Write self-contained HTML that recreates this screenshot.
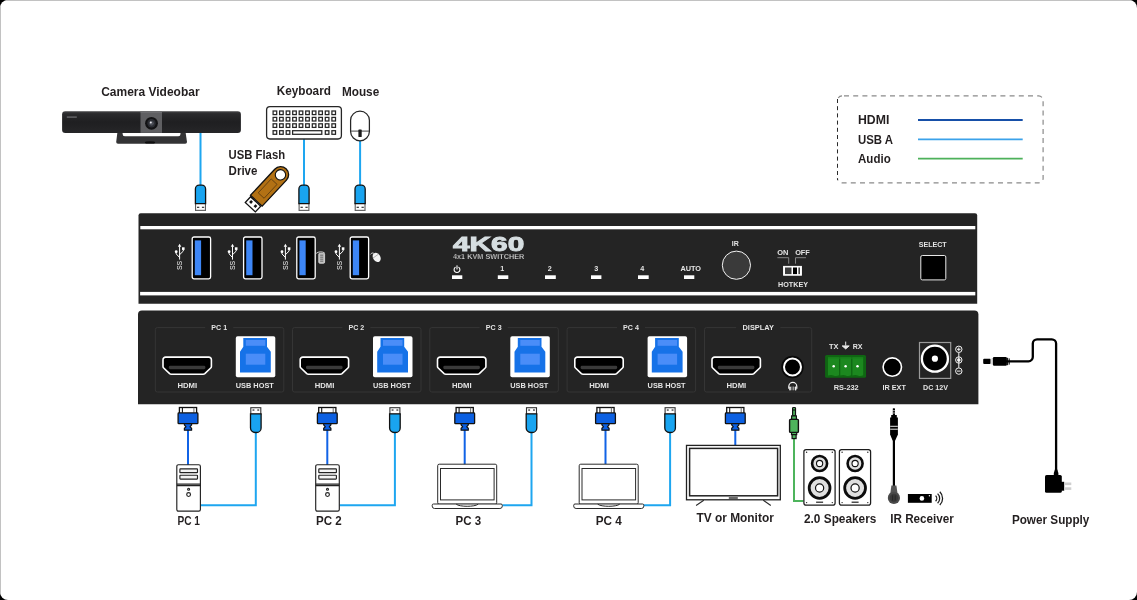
<!DOCTYPE html>
<html><head><meta charset="utf-8">
<style>
html,body{margin:0;padding:0;background:#000;}
body{width:1137px;height:600px;overflow:hidden;font-family:"Liberation Sans",sans-serif;}
svg{display:block;will-change:transform;}
text{font-family:"Liberation Sans",sans-serif;font-weight:bold;}
.lbl{fill:#231f20;font-size:12.8px;}
.pl{fill:#e4e4e4;font-size:7.2px;}
</style></head><body>
<svg width="1137" height="600" viewBox="0 0 1137 600">
<defs>
<!-- USB-A plug pointing up (metal at bottom) used on top devices: origin = center x, top of blue body -->
<g id="usbDown">
  <rect x="-4.9" y="18.2" width="9.8" height="7.4" fill="#fff" stroke="#4a4a4a" stroke-width="1"/>
  <path d="M-4.9 25.5H4.9" stroke="#666" stroke-width="1.2"/>
  <rect x="-3.5" y="21.8" width="2.3" height="1.3" fill="#444"/><rect x="1.4" y="21.8" width="2.3" height="1.3" fill="#444"/>
  <path d="M-5.1 18.7V4.1A3.8 3.8 0 0 1 -1.3 0.3H1.3A3.8 3.8 0 0 1 5.1 4.1V18.7Z" fill="#19a4f0" stroke="#111" stroke-width="1.3"/>
</g>
<!-- USB-A plug with metal at top (below rear panel): origin = center x, top of metal -->
<g id="usbUp">
  <rect x="-5" y="0.4" width="10" height="6.6" fill="#fff" stroke="#333" stroke-width="1.1"/>
  <rect x="-3.3" y="1.9" width="1.9" height="1.7" fill="#666"/><rect x="1.5" y="1.9" width="1.9" height="1.7" fill="#666"/>
  <path d="M-5.3 6.6V20.6A4.6 4.6 0 0 0 -0.7 25.2H0.7A4.6 4.6 0 0 0 5.3 20.6V6.6Z" fill="#19a4f0" stroke="#111" stroke-width="1.3"/>
</g>
<!-- HDMI plug: origin = center x, top -->
<g id="hdmiPlug">
  <rect x="-8.6" y="0.2" width="17.2" height="6.8" fill="#fff" stroke="#111" stroke-width="1.3"/>
  <path d="M-5.6 0.5V5.5" stroke="#111" stroke-width="1.1"/><path d="M5.9 0.5V5.5" stroke="#777" stroke-width="1.1"/>
  <path d="M-3.6 16H3.6V17.6L2 19.6L3.6 21V22.9H-3.6V21L-2 19.6L-3.6 17.6Z" fill="#0c60e2" stroke="#111" stroke-width="1.2" stroke-linejoin="round"/>
  <rect x="-9.9" y="5.6" width="19.8" height="10.8" rx="0.8" fill="#0c60e2" stroke="#111" stroke-width="1.3"/>
</g>
<!-- HDMI port: origin = left, top; 50 x 18.7 -->
<g id="hdmiPort">
  <path d="M3.4 0.8H46.6a2.6 2.6 0 0 1 2.6 2.6V10.2a2 2 0 0 1 -0.7 1.5L42.6 17.3a2.4 2.4 0 0 1 -1.6 0.6H9a2.4 2.4 0 0 1 -1.6 -0.6L1.5 11.7a2 2 0 0 1 -0.7 -1.5V3.4A2.6 2.6 0 0 1 3.4 0.8Z" fill="#000" stroke="#fff" stroke-width="1.6" stroke-linejoin="round"/>
  <rect x="6.6" y="9.5" width="36.6" height="3.4" rx="1.4" fill="#3a3a3a"/>
</g>
<!-- USB-B port: origin left top; 39.5 x 41 -->
<g id="usbB">
  <rect x="0" y="0" width="39.5" height="41" rx="1.8" fill="#fff"/>
  <path d="M7.5 1.7H31.2V10.4L35 15.4V36.2H4.2V15.4L7.5 10.4Z" fill="#1672e8"/>
  <rect x="10" y="3.7" width="19.5" height="5.8" fill="#4a8df8"/>
  <rect x="10" y="17.4" width="19.5" height="11" fill="#4a8df8"/>
</g>
<!-- PC group : origin at box left (155.3) -->
<g id="pcGroup">
  <use href="#hdmiPort" x="6.9" y="356.3"/>
  <use href="#usbB" x="80.5" y="336.3"/>
  <text class="pl" x="32" y="388.2" text-anchor="middle" textLength="19.7" lengthAdjust="spacingAndGlyphs">HDMI</text>
  <text class="pl" x="99.5" y="388.2" text-anchor="middle" textLength="38" lengthAdjust="spacingAndGlyphs">USB HOST</text>
</g>
<!-- USB trident + SS -->
<g id="usbSym" fill="#fff" stroke="none">
  <path d="M0 -8.6L1.7 -5.6H-1.7Z"/>
  <path d="M0 -6V7.3" stroke="#fff" stroke-width="1" fill="none"/>
  <path d="M-3.4 -0.5V1.6L0 5.2M3.7 -3.6V-1.2L0 2.4" stroke="#fff" stroke-width="1" fill="none"/>
  <circle cx="-3.4" cy="-0.6" r="1.4"/>
  <rect x="2.4" y="-5" width="2.6" height="2.6"/>
  <text transform="translate(2.2,17.8) rotate(-90)" font-size="7.4px" fill="#f0f0f0" textLength="9.2" lengthAdjust="spacingAndGlyphs" style="font-weight:normal">SS</text>
</g>
<!-- Front USB port: origin left top -->
<g id="fUsb">
  <rect x="0.6" y="0.6" width="18.4" height="41.8" rx="1.8" fill="#000" stroke="#fff" stroke-width="1.3"/>
  <rect x="3.2" y="4" width="6.3" height="34.8" fill="#3d86f6"/>
</g>
<!-- PC tower: origin left top, 24.4 x 47.2 -->
<g id="tower" stroke="#222" stroke-width="1.15" fill="#fff">
  <rect x="0.5" y="0.5" width="23.6" height="46.4" rx="1.6"/>
  <rect x="3.6" y="4.6" width="17.6" height="3.8" rx="0.5" fill="#f4f4f4"/>
  <rect x="3.6" y="11" width="17.6" height="3.8" rx="0.5" fill="#f4f4f4"/>
  <path d="M0.5 19.8H24.1M0.5 21.4H24.1" />
  <circle cx="12.3" cy="25" r="1"/>
  <circle cx="12.3" cy="30.3" r="1.9"/>
</g>
<!-- Laptop: origin = base left, screen top ; base width 71 -->
<g id="laptop" stroke="#2a2a2a" stroke-width="1" fill="#fff">
  <rect x="6" y="0.5" width="59" height="40" rx="1.5"/>
  <rect x="8.8" y="4.8" width="53.6" height="31.4"/>
  <path d="M1.8 40.3H69.3A1.3 1.3 0 0 1 70.6 41.6V42.4A2.4 2.4 0 0 1 68.2 44.8H2.9A2.4 2.4 0 0 1 0.5 42.4V41.6A1.3 1.3 0 0 1 1.8 40.3Z"/>
  <path d="M24.5 40.5C28 43.3 43 43.3 46.5 40.5" fill="none"/>
</g>
<!-- Speaker: origin left top 32.2 x 56.5 -->
<g id="spk">
  <rect x="0.6" y="0.6" width="31.2" height="55.5" rx="2.2" fill="#fff" stroke="#1c1c1c" stroke-width="1.25"/>
  <circle cx="16.3" cy="14.5" r="7.5" fill="#e0e0e0" stroke="#0c0c0c" stroke-width="2.6"/>
  <circle cx="16.3" cy="14.5" r="3.1" fill="#fff" stroke="#111" stroke-width="1.1"/>
  <circle cx="16.3" cy="39" r="10.4" fill="#e0e0e0" stroke="#0c0c0c" stroke-width="2.8"/>
  <circle cx="16.3" cy="39" r="4.1" fill="#fff" stroke="#111" stroke-width="1.2"/>
  <rect x="12.8" y="52.6" width="7" height="1.2" fill="#222"/>
  <circle cx="3.3" cy="3.2" r="0.7" fill="#222"/><circle cx="29" cy="3.2" r="0.7" fill="#222"/>
  <circle cx="3.3" cy="53.6" r="0.7" fill="#222"/><circle cx="29" cy="53.6" r="0.7" fill="#222"/>
</g>
<linearGradient id="camG" x1="0" y1="0" x2="0" y2="1"><stop offset="0" stop-color="#454547"/><stop offset="0.12" stop-color="#2a2a2c"/><stop offset="0.5" stop-color="#1f1f21"/><stop offset="1" stop-color="#262628"/></linearGradient>
</defs>

<!-- page background -->
<rect x="0" y="0" width="1137" height="600" rx="8" fill="#fff"/>
<path d="M6.5 0.5H1130.5M0.5 6.5V593.5" stroke="#c2c2c2" stroke-width="1" fill="none"/>

<g id="front">
  <path d="M138.5 303.8V215.4A2.2 2.2 0 0 1 140.7 213.2H975A2.2 2.2 0 0 1 977.2 215.4V303.8Z" fill="#242424"/>
  <rect x="140.3" y="226" width="835" height="3.3" fill="#fff"/>
  <rect x="140.1" y="291.9" width="835.2" height="3.5" fill="#fff"/>
  <use href="#fUsb" x="191.6" y="236.4"/><use href="#fUsb" x="243" y="236.4"/><use href="#fUsb" x="296.2" y="236.4"/><use href="#fUsb" x="349.6" y="236.4"/>
  <use href="#usbSym" x="179.6" y="252.3"/><use href="#usbSym" x="232.5" y="252.3"/><use href="#usbSym" x="285.4" y="252.3"/><use href="#usbSym" x="339.4" y="252.3"/>
  <!-- tiny keyboard icon -->
  <g transform="translate(316.2,251.6)" fill="none" stroke="#d8d8d8" stroke-width="0.9">
    <path d="M0 1.8C2 -0.2 6 -0.2 8.4 1.2"/>
    <rect x="2.6" y="1.6" width="5.8" height="10" rx="1" fill="#bdbdbd"/>
    <path d="M4 3.6H7M4 5.6H7M4 7.6H7M4 9.6H7" stroke="#555" stroke-width="0.8"/>
  </g>
  <!-- tiny mouse icon -->
  <g transform="translate(376.7,257.4) rotate(-35)">
    <ellipse cx="0" cy="0" rx="3.6" ry="4.9" fill="#f2f2f2"/>
    <path d="M-3.4 -1.6H3.4" stroke="#888" stroke-width="0.6"/>
    <path d="M0 -4.8C-0.5 -6.5 -2 -6.6 -3.4 -6" stroke="#ddd" stroke-width="0.8" fill="none"/>
  </g>
  <!-- title -->
  <text x="453" y="250.6" font-size="20.4px" fill="#d6dee1" stroke="#d6dee1" stroke-width="0.9" textLength="71.3" lengthAdjust="spacingAndGlyphs">4K60</text>
  <text x="453" y="258.9" font-size="7.3px" fill="#e6e6e6" stroke="#242424" stroke-width="0.25" textLength="71.3" lengthAdjust="spacingAndGlyphs">4x1 KVM SWITCHER</text>
  <!-- power icon -->
  <g fill="none" stroke="#fff" stroke-width="1.1" stroke-linecap="round">
    <path d="M455.2 267.4A2.9 2.9 0 1 0 458.8 267.4"/><path d="M457 265.8V268.9"/>
  </g>
  <g fill="#fff">
    <rect x="452" y="275.3" width="10.3" height="3.7"/><rect x="497.8" y="275.3" width="10.5" height="3.7"/>
    <rect x="545" y="275.3" width="10.8" height="3.7"/><rect x="591" y="275.3" width="10.4" height="3.7"/>
    <rect x="638" y="275.3" width="10.7" height="3.7"/><rect x="684" y="275.3" width="10.3" height="3.7"/>
  </g>
  <g class="pl" fill="#e4e4e4" text-anchor="middle" font-size="7.4px">
    <text class="pl" x="502.3" y="271.3">1</text><text class="pl" x="549.7" y="271.3">2</text>
    <text class="pl" x="596.3" y="271.3">3</text><text class="pl" x="642.3" y="271.3">4</text>
    <text class="pl" x="690.7" y="271.3" textLength="20.6" lengthAdjust="spacingAndGlyphs">AUTO</text>
    <text class="pl" x="735.2" y="245.8" textLength="7" lengthAdjust="spacingAndGlyphs">IR</text>
    <text class="pl" x="782.8" y="255" textLength="11.2" lengthAdjust="spacingAndGlyphs">ON</text>
    <text class="pl" x="802.5" y="255" textLength="14.7" lengthAdjust="spacingAndGlyphs">OFF</text>
    <text class="pl" x="793" y="286.6" textLength="30" lengthAdjust="spacingAndGlyphs">HOTKEY</text>
    <text class="pl" x="932.7" y="247.1" textLength="28" lengthAdjust="spacingAndGlyphs">SELECT</text>
  </g>
  <circle cx="736.4" cy="265.2" r="14.1" fill="#3a3a3a" stroke="#f2f2f2" stroke-width="1"/>
  <path d="M777.4 257.7H788.7V263.7M806 257.7H795.5V263.7" stroke="#9a9a9a" stroke-width="0.8" fill="none"/>
  <rect x="783.6" y="266.4" width="17.8" height="8.8" fill="#fff" stroke="#fff" stroke-width="1"/>
  <rect x="785" y="267.5" width="6.5" height="6.6" fill="#3c3c3c"/>
  <rect x="793" y="267.5" width="4" height="6.6" fill="#000"/>
  <rect x="798.4" y="267.5" width="1.6" height="6.6" fill="#444"/>
  <rect x="920.8" y="255.5" width="25" height="24.4" rx="1.5" fill="#000" stroke="#e8e8e8" stroke-width="1"/>
</g>
<g id="rear">
  <path d="M138 404.2V314.4A4 4 0 0 1 142 310.4H974.4A4 4 0 0 1 978.4 314.4V404.2Z" fill="#242424"/>
  <path d="M205.2 327.6H157.3A2 2 0 0 0 155.3 329.6V390A2 2 0 0 0 157.3 392H281.8A2 2 0 0 0 283.8 390V329.6A2 2 0 0 0 281.8 327.6H233.2" fill="none" stroke="#353535" stroke-width="1"/>
  <text class="pl" x="219.2" y="330.1" text-anchor="middle" textLength="15.8" lengthAdjust="spacingAndGlyphs">PC 1</text>
  <use href="#pcGroup" x="155.3" y="0"/>
  <path d="M342.4 327.6H294.5A2 2 0 0 0 292.5 329.6V390A2 2 0 0 0 294.5 392H419.0A2 2 0 0 0 421.0 390V329.6A2 2 0 0 0 419.0 327.6H370.4" fill="none" stroke="#353535" stroke-width="1"/>
  <text class="pl" x="356.4" y="330.1" text-anchor="middle" textLength="15.8" lengthAdjust="spacingAndGlyphs">PC 2</text>
  <use href="#pcGroup" x="292.5" y="0"/>
  <path d="M479.7 327.6H431.8A2 2 0 0 0 429.8 329.6V390A2 2 0 0 0 431.8 392H556.3A2 2 0 0 0 558.3 390V329.6A2 2 0 0 0 556.3 327.6H507.7" fill="none" stroke="#353535" stroke-width="1"/>
  <text class="pl" x="493.7" y="330.1" text-anchor="middle" textLength="15.8" lengthAdjust="spacingAndGlyphs">PC 3</text>
  <use href="#pcGroup" x="429.8" y="0"/>
  <path d="M617.0 327.6H569.1A2 2 0 0 0 567.1 329.6V390A2 2 0 0 0 569.1 392H693.6A2 2 0 0 0 695.6 390V329.6A2 2 0 0 0 693.6 327.6H645.0" fill="none" stroke="#353535" stroke-width="1"/>
  <text class="pl" x="631.0" y="330.1" text-anchor="middle" textLength="15.8" lengthAdjust="spacingAndGlyphs">PC 4</text>
  <use href="#pcGroup" x="567.1" y="0"/>
  <path d="M736.1 327.6H706.5A2 2 0 0 0 704.5 329.6V390A2 2 0 0 0 706.5 392H809.7A2 2 0 0 0 811.7 390V329.6A2 2 0 0 0 809.7 327.6H780.4" fill="none" stroke="#353535" stroke-width="1"/>
  <text class="pl" x="758.2" y="330.1" text-anchor="middle" textLength="31.3" lengthAdjust="spacingAndGlyphs">DISPLAY</text>
  <use href="#hdmiPort" x="711.2" y="356.3"/>
  <text class="pl" x="736.4" y="388.2" text-anchor="middle" textLength="19.7" lengthAdjust="spacingAndGlyphs">HDMI</text>
  <circle cx="792.5" cy="367" r="11.2" fill="#080808"/>
  <circle cx="792.5" cy="367" r="8.5" fill="#000" stroke="#fff" stroke-width="2"/>
  <!-- headphones -->
  <g fill="none" stroke="#f6f6f6" stroke-width="1.2">
    <path d="M788.8 388.8V386.4A4 4 0 0 1 796.8 386.4V388.8"/>
    <rect x="789.2" y="386.6" width="1.6" height="3.8" rx="0.6" fill="#f0f0f0" stroke="none"/>
    <rect x="794.8" y="386.6" width="1.6" height="3.8" rx="0.6" fill="#f0f0f0" stroke="none"/>
    <path d="M792 386.5V390.3M793.6 386.5V390.3" stroke-width="0.6"/>
  </g>
  <!-- RS-232 -->
  <text class="pl" x="833.8" y="348.9" text-anchor="middle" textLength="9.5" lengthAdjust="spacingAndGlyphs" style="font-weight:bold">TX</text>
  <text class="pl" x="857.6" y="348.9" text-anchor="middle" textLength="9.8" lengthAdjust="spacingAndGlyphs">RX</text>
  <path d="M845.7 341.6V345.6M842.2 345.9H849.2L845.7 348.9Z" stroke="#e8e8e8" stroke-width="1" fill="#e8e8e8" stroke-linejoin="round"/>
  <rect x="825.1" y="354.9" width="40.9" height="22.9" rx="1.6" fill="#0f6612"/>
  <path d="M828 357.3H839V375.2Q836.2 376.6 833.5 375.4Q830.8 374.4 828 375.6Z" fill="#1c881f"/>
  <path d="M840.3 357.3H851.1V375.2Q848.4 376.6 845.7 375.4Q843 374.4 840.3 375.6Z" fill="#1c881f"/>
  <path d="M852.4 357.3H863.2V375.2Q860.5 376.6 857.8 375.4Q855.1 374.4 852.4 375.6Z" fill="#1c881f"/>
  <rect x="828" y="357.3" width="35.2" height="1.6" fill="#1a7f1d" opacity="0.7"/>
  <circle cx="833.7" cy="366.3" r="1.25" fill="#fff"/><circle cx="845.6" cy="366.3" r="1.25" fill="#fff"/><circle cx="857.5" cy="366.3" r="1.25" fill="#fff"/>
  <text class="pl" x="846.2" y="390.4" text-anchor="middle" textLength="25" lengthAdjust="spacingAndGlyphs">RS-232</text>
  <!-- IR EXT -->
  <circle cx="892.3" cy="367.1" r="9.2" fill="#000" stroke="#fff" stroke-width="1.6"/>
  <text class="pl" x="894.2" y="390.4" text-anchor="middle" textLength="23.3" lengthAdjust="spacingAndGlyphs">IR EXT</text>
  <!-- DC -->
  <rect x="919.5" y="342.5" width="31.2" height="35.9" fill="#242424" stroke="#9a9a9a" stroke-width="1.2"/>
  <circle cx="934.9" cy="358.7" r="13" fill="#000" stroke="#fff" stroke-width="2.3"/>
  <circle cx="934.9" cy="358.7" r="3.1" fill="#fff"/>
  <text class="pl" x="935.5" y="390.4" text-anchor="middle" textLength="25" lengthAdjust="spacingAndGlyphs">DC 12V</text>
  <g fill="none" stroke="#f4f4f4" stroke-width="1">
    <path d="M958.8 352.6V367.8"/>
    <circle cx="958.8" cy="349.3" r="3.2"/><circle cx="958.8" cy="360" r="3.2"/><circle cx="958.8" cy="371.1" r="3.2"/>
    <path d="M957 349.3H960.6M958.8 347.5V351.1M957 371.1H960.6"/>
    <circle cx="958.8" cy="360" r="1.8" fill="#f4f4f4" stroke="none"/>
  </g>
</g>
<g id="top">
  <text class="lbl" x="101.2" y="95.8" textLength="98.4" lengthAdjust="spacingAndGlyphs">Camera Videobar</text>
  <text class="lbl" x="276.7" y="95.4" textLength="54.2" lengthAdjust="spacingAndGlyphs">Keyboard</text>
  <text class="lbl" x="341.9" y="96.2" textLength="37.3" lengthAdjust="spacingAndGlyphs">Mouse</text>
  <text class="lbl" x="228.6" y="158.8" textLength="56.5" lengthAdjust="spacingAndGlyphs">USB Flash</text>
  <text class="lbl" x="228.6" y="175.1" textLength="28.8" lengthAdjust="spacingAndGlyphs">Drive</text>
  <!-- cables -->
  <path d="M200.5 132V186M304 139V186M360.1 141V186" stroke="#1ea6f0" stroke-width="2" fill="none"/>
  <!-- camera -->
  <path d="M117.6 131H185.4L187 142A1.8 1.8 0 0 1 185.2 143.8H118A1.8 1.8 0 0 1 116.2 142Z" fill="#333335"/>
  <path d="M122.6 132.5H180.5V134A2.2 2.2 0 0 1 178.3 136.2H124.8A2.2 2.2 0 0 1 122.6 134Z" fill="#fff"/>
  <ellipse cx="150" cy="142.4" rx="5.2" ry="1.2" fill="#0e0e0e"/>
  <rect x="62.1" y="111.2" width="178.8" height="21.7" rx="3.2" fill="url(#camG)"/>
  <rect x="140.5" y="112.4" width="21.5" height="20.5" fill="#5f5f62"/>
  <rect x="140.5" y="111.4" width="21.5" height="1.6" fill="#6c6c6f"/>
  <circle cx="151.5" cy="123.3" r="6.4" fill="#121214"/>
  <circle cx="151.5" cy="123.3" r="4.2" fill="#2b2d33"/>
  <circle cx="151.5" cy="123.3" r="2.4" fill="#4b4e56"/>
  <circle cx="150.8" cy="122.5" r="1" fill="#e8e8ee"/>
  <rect x="66.8" y="116.4" width="10" height="1.4" fill="#77777a" opacity="0.8"/>
  <use href="#usbDown" x="200.5" y="184.9"/><use href="#usbDown" x="304" y="184.9"/><use href="#usbDown" x="360.1" y="184.9"/>
  <!-- keyboard -->
  <rect x="266.6" y="106.6" width="74.8" height="32.4" rx="3.4" fill="#fff" stroke="#262626" stroke-width="1.3"/>
  <g fill="#fff" stroke="#262626" stroke-width="1.25"><rect x="273.1" y="111.0" width="3.6" height="3.6"/><rect x="279.6" y="111.0" width="3.6" height="3.6"/><rect x="286.2" y="111.0" width="3.6" height="3.6"/><rect x="292.7" y="111.0" width="3.6" height="3.6"/><rect x="299.2" y="111.0" width="3.6" height="3.6"/><rect x="305.7" y="111.0" width="3.6" height="3.6"/><rect x="312.3" y="111.0" width="3.6" height="3.6"/><rect x="318.8" y="111.0" width="3.6" height="3.6"/><rect x="325.3" y="111.0" width="3.6" height="3.6"/><rect x="331.9" y="111.0" width="3.6" height="3.6"/><rect x="273.1" y="117.4" width="3.6" height="3.6"/><rect x="279.6" y="117.4" width="3.6" height="3.6"/><rect x="286.2" y="117.4" width="3.6" height="3.6"/><rect x="292.7" y="117.4" width="3.6" height="3.6"/><rect x="299.2" y="117.4" width="3.6" height="3.6"/><rect x="305.7" y="117.4" width="3.6" height="3.6"/><rect x="312.3" y="117.4" width="3.6" height="3.6"/><rect x="318.8" y="117.4" width="3.6" height="3.6"/><rect x="325.3" y="117.4" width="3.6" height="3.6"/><rect x="331.9" y="117.4" width="3.6" height="3.6"/><rect x="273.1" y="123.8" width="3.6" height="3.6"/><rect x="279.6" y="123.8" width="3.6" height="3.6"/><rect x="286.2" y="123.8" width="3.6" height="3.6"/><rect x="292.7" y="123.8" width="3.6" height="3.6"/><rect x="299.2" y="123.8" width="3.6" height="3.6"/><rect x="305.7" y="123.8" width="3.6" height="3.6"/><rect x="312.3" y="123.8" width="3.6" height="3.6"/><rect x="318.8" y="123.8" width="3.6" height="3.6"/><rect x="325.3" y="123.8" width="3.6" height="3.6"/><rect x="331.9" y="123.8" width="3.6" height="3.6"/><rect x="273.1" y="130.7" width="3.6" height="3.6"/><rect x="279.6" y="130.7" width="3.6" height="3.6"/><rect x="286.2" y="130.7" width="3.6" height="3.6"/><rect x="325.3" y="130.7" width="3.6" height="3.6"/><rect x="331.9" y="130.7" width="3.6" height="3.6"/><rect x="292.6" y="130.7" width="29.2" height="3.6"/></g>
  <!-- mouse -->
  <path d="M350.6 120.2A9.4 9 0 0 1 369.4 120.2V131.4A9.4 9.4 0 0 1 350.6 131.4Z" fill="#fff" stroke="#262626" stroke-width="1.25"/>
  <path d="M350.6 131.1H369.4" stroke="#333" stroke-width="0.9"/>
  <rect x="358.4" y="129.6" width="3.3" height="7.4" rx="0.6" fill="#1c1c1c"/>
  <!-- flash drive -->
  <g transform="translate(280.6,174.7) rotate(133)">
    <rect x="36.6" y="-6.9" width="7.8" height="13.8" fill="#fff" stroke="#111" stroke-width="1.3"/>
    <rect x="38.7" y="-4.3" width="2.8" height="2.6" fill="#111"/><rect x="38.7" y="1.7" width="2.8" height="2.6" fill="#111"/>
    <path d="M0 -8H35.6V8H0A8 8 0 0 1 0 -8Z" fill="#b27114" stroke="#111" stroke-width="1.3"/>
    <rect x="9.5" y="-4" width="19" height="8" fill="#b27114" stroke="#5a3a10" stroke-width="0.8"/>
    <circle cx="0.2" cy="0" r="5.2" fill="#fff" stroke="#111" stroke-width="1.1"/>
  </g>
</g>
<g id="bottom">
  <!-- HDMI cables -->
  <path d="M188 429V465M327.3 429V465M464.7 429V464.3H465.2M605.5 429V464M735.3 429V445" stroke="#1163e6" stroke-width="2" fill="none"/>
  <!-- USB cables -->
  <path d="M255.8 432V505.2H200.5M394.9 432V505.2H339.5M531.5 432V505.2H502.5M670.1 432V505.2H643.5" stroke="#1ea6f0" stroke-width="2" fill="none"/>
  <use href="#hdmiPlug" x="188" y="407.3"/><use href="#hdmiPlug" x="327.3" y="407.3"/><use href="#hdmiPlug" x="464.7" y="407.3"/><use href="#hdmiPlug" x="605.5" y="407.3"/><use href="#hdmiPlug" x="735.3" y="407.3"/>
  <use href="#usbUp" x="255.8" y="407.3"/><use href="#usbUp" x="394.9" y="407.3"/><use href="#usbUp" x="531.5" y="407.3"/><use href="#usbUp" x="670.1" y="407.3"/>
  <use href="#tower" x="176.3" y="464.3"/><use href="#tower" x="315.2" y="464.3"/>
  <use href="#laptop" x="431.7" y="463.7"/><use href="#laptop" x="573.2" y="463.7"/>
  <text class="lbl" x="177.5" y="524.6" textLength="22.5" lengthAdjust="spacingAndGlyphs">PC 1</text>
  <text class="lbl" x="316.1" y="524.6" textLength="25.7" lengthAdjust="spacingAndGlyphs">PC 2</text>
  <text class="lbl" x="455.5" y="524.6" textLength="25.6" lengthAdjust="spacingAndGlyphs">PC 3</text>
  <text class="lbl" x="595.7" y="524.6" textLength="26.1" lengthAdjust="spacingAndGlyphs">PC 4</text>
  <!-- TV -->
  <path d="M703.8 500.3L696.1 505.5M763.3 500.3L770.8 505.5" stroke="#2a2a2a" stroke-width="1.1"/>
  <rect x="686.5" y="445.4" width="93.8" height="54.4" fill="#fff" stroke="#222" stroke-width="1.3"/>
  <rect x="689.6" y="448.4" width="88" height="47.4" fill="#fff" stroke="#222" stroke-width="1.5"/>
  <rect x="728.8" y="497.3" width="9" height="1.4" fill="#2a2a2a"/>
  <text class="lbl" x="696.4" y="522.2" textLength="77.4" lengthAdjust="spacingAndGlyphs">TV or Monitor</text>
  <!-- audio -->
  <path d="M794 437V501H803.5" stroke="#4db45c" stroke-width="2" fill="none"/>
  <g stroke="#111" stroke-width="1.2" fill="#4db45c">
    <rect x="792.6" y="407.5" width="2.9" height="8.4" rx="0.8"/>
    <path d="M792.2 410H795.9" stroke-width="1.1"/>
    <rect x="791.6" y="415.9" width="4.8" height="3.6"/>
    <rect x="792.1" y="434" width="4" height="4.6"/>
    <rect x="791.5" y="432" width="5.2" height="2.6"/>
    <rect x="789.6" y="419.4" width="8.8" height="13" rx="0.8" stroke-width="1.4"/>
  </g>
  <use href="#spk" x="803.3" y="449"/><use href="#spk" x="838.8" y="449"/>
  <text class="lbl" x="804" y="522.5" textLength="72.4" lengthAdjust="spacingAndGlyphs">2.0 Speakers</text>
  <!-- IR -->
  <path d="M893.9 438V487" stroke="#000" stroke-width="2.2"/>
  <rect x="892.8" y="408.2" width="2.2" height="8.4" rx="0.6" fill="#000"/>
  <rect x="891.2" y="415" width="5.6" height="3" fill="#000"/>
  <path d="M892.6 410.7H895.2M892.6 413H895.2" stroke="#fff" stroke-width="0.7"/>
  <path d="M890.1 417.6H897.9V434.4L895.2 440.4H892.6L890.1 434.4Z" fill="#000"/>
  <path d="M890.2 426.3H897.8M890.2 429.2H897.8" stroke="#fff" stroke-width="0.9"/>
  <path d="M891.4 485.6H896.4L897.6 494H890.2Z" fill="#555"/>
  <circle cx="893.9" cy="497.9" r="6.1" fill="#4a4a4a"/>
  <circle cx="893.9" cy="497.9" r="4.2" fill="#3a3a3a"/>
  <path d="M892.6 495.4V500.6M895.2 495.4V500.6" stroke="#222" stroke-width="0.8"/>
  <rect x="907.9" y="494" width="23.8" height="8.8" fill="#000"/>
  <circle cx="921.9" cy="498.4" r="2.3" fill="#fff"/><circle cx="929.4" cy="495.8" r="0.7" fill="#fff"/>
  <path d="M935.6 495.6A4 4 0 0 1 935.6 501.2M937.6 493.6A6.6 6.6 0 0 1 937.6 503.2M939.8 491.8A9.2 9.2 0 0 1 939.8 505" fill="none" stroke="#1a1a1a" stroke-width="1.25"/>
  <text class="lbl" x="890.2" y="523.2" textLength="63.7" lengthAdjust="spacingAndGlyphs">IR Receiver</text>
</g>
<g id="legend">
  <rect x="837.5" y="95.9" width="205.6" height="87" rx="4.5" fill="none" stroke="#8a8a8a" stroke-width="1.2" stroke-dasharray="5 4.2" stroke-dashoffset="-2"/>
  <path d="M837.5 100.5V178.5" stroke="#fff" stroke-width="2.4"/>
  <path d="M837.5 99V180" stroke="#2a2a2a" stroke-width="1" stroke-dasharray="4 3.2"/>
  <text class="lbl" font-size="12.7px" x="858" y="123.8" textLength="31.3" lengthAdjust="spacingAndGlyphs" style="font-size:12.7px">HDMI</text>
  <text class="lbl" x="858" y="143.7" textLength="35.1" lengthAdjust="spacingAndGlyphs" style="font-size:12.7px">USB A</text>
  <text class="lbl" x="858" y="163.2" textLength="32.7" lengthAdjust="spacingAndGlyphs" style="font-size:12.7px">Audio</text>
  <path d="M918 120H1022.7" stroke="#164fa8" stroke-width="1.8"/>
  <path d="M918 139.4H1022.7" stroke="#3ba2ea" stroke-width="1.8"/>
  <path d="M918 158.6H1022.7" stroke="#4db15a" stroke-width="1.8"/>
</g>
<g id="power">
  <rect x="983.2" y="358.8" width="7.6" height="5.1" rx="1" fill="#000"/>
  <rect x="990.6" y="358.4" width="2.4" height="6" fill="#ddd"/>
  <rect x="992.9" y="357.1" width="14" height="8.7" rx="1.2" fill="#000"/>
  <path d="M1007.6 357.8V365.2M1009.2 358.4V364.6" stroke="#000" stroke-width="1"/>
  <path d="M1006 361.3H1028.5A4.3 4.3 0 0 0 1032.8 357V343.6A4.3 4.3 0 0 1 1037.1 339.3H1051.8A4.3 4.3 0 0 1 1056.1 343.6V471" fill="none" stroke="#000" stroke-width="2.3"/>
  <path d="M1054.9 469.4H1057.3L1058.4 473V475H1053.8V473Z" fill="#000"/>
  <rect x="1045" y="475" width="16.8" height="17.8" rx="1.6" fill="#000"/>
  <rect x="1060" y="481.8" width="4.2" height="8.9" fill="#000"/>
  <rect x="1064.1" y="482.5" width="7.2" height="2.6" fill="#cfcfcf"/>
  <rect x="1064.1" y="487.3" width="7.2" height="2.6" fill="#cfcfcf"/>
  <text class="lbl" x="1011.9" y="524" textLength="77.5" lengthAdjust="spacingAndGlyphs">Power Supply</text>
</g>
</svg>
</body></html>
